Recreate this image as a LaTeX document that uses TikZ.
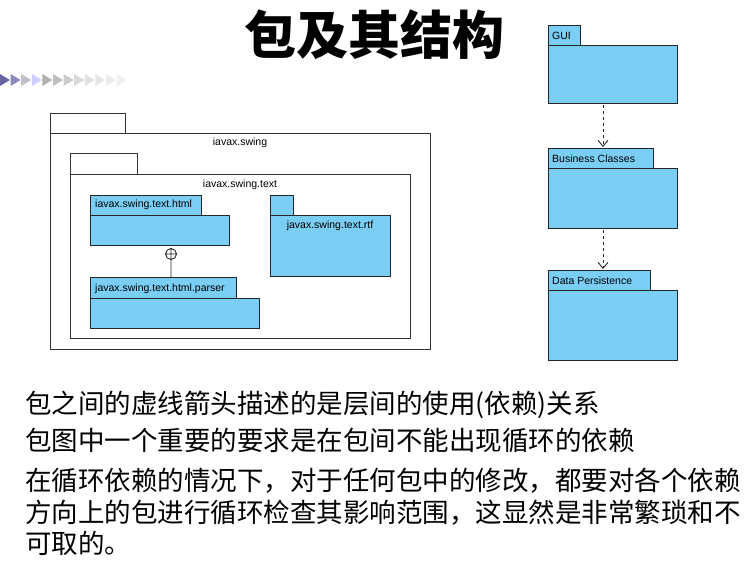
\documentclass[tikz,border=0pt]{standalone}
\usepackage{fontspec}
\setmainfont{Liberation Sans}
\newfontfamily\cjk{Noto Sans CJK SC}
\usetikzlibrary{arrows.meta}
\definecolor{pkgblue}{RGB}{122,206,244}
\tikzset{
  box/.style={draw=black!85,fill=pkgblue,line width=0.9pt},
  frame/.style={draw=black!80,fill=white,line width=0.9pt},
  lbl/.style={font=\fontsize{10.5}{12}\selectfont,inner sep=1pt},
  dep/.style={draw=black!85,line width=0.9pt,dashed,-{Straight Barb[length=6pt,width=10pt]}},
  line/.style={anchor=west,font=\cjk\fontsize{26.5}{30}\selectfont,inner sep=0pt},
}
\begin{document}
\begin{tikzpicture}[x=1pt,y=-1pt]
  \useasboundingbox (0,0) rectangle (749,560);
  \node (title) at (374,35) {\cjk\bfseries\fontsize{52}{56}\selectfont 包及其结构};
  \foreach \i/\c in {0/blue!40!black!60,1/blue!40!black!45,2/blue!25!black!25,3/blue!20,4/black!30,5/black!25,6/black!20,7/black!15,8/black!12,9/black!10,10/black!8,11/black!6}
    \fill[\c] (\i*10.6,74) -- (\i*10.6+10,80) -- (\i*10.6,86) -- cycle;
  % javax.swing
  \draw[frame] (50,113) rectangle (125,133);
  \draw[frame] (50,133) rectangle (430,349);
  \node[lbl] (swing) at (240,143) {iavax.swing};
  \draw[frame] (70,153) rectangle (137,174);
  \draw[frame] (70,174) rectangle (410,338);
  \node[lbl] (text) at (240,185) {iavax.swing.text};
  % html / parser / rtf
  \draw[box] (90,195) rectangle (201,215);
  \draw[box] (90,215) rectangle (229,245);
  \node[lbl,anchor=west] (html) at (94,205) {iavax.swing.text.html};
  \draw[box] (90,277) rectangle (236,298);
  \draw[box] (90,298) rectangle (259,328);
  \node[lbl,anchor=west] (parser) at (94,289) {javax.swing.text.html.parser};
  \draw[box] (270,195) rectangle (293,215);
  \draw[box] (270,215) rectangle (390,276);
  \node[lbl] (rtf) at (330,226) {javax.swing.text.rtf};
  \coordinate (nestBot) at (171,277);
  \draw[black!85,line width=0.9pt] (171,254) circle (5.5) (165.5,254) -- (176.5,254) (171,248.5) -- (nestBot);
  % layers
  \foreach \y/\w/\b/\t/\n in {25/32/103/GUI/gui,148/105/228/Business Classes/bus,270/102/360/Data Persistence/data}{
    \draw[box] (548,\y) rectangle (548+\w,\y+20);
    \draw[box] (548,\y+20) rectangle (677,\b);
    \node[lbl,anchor=west] (\n) at (551,\y+10.5) {\t};
  }
  \coordinate (a1) at (603,105);
  \coordinate (a2) at (603,147);
  \coordinate (b1) at (603,230);
  \coordinate (b2) at (603,269);
  \draw[dep] (a1) -- (a2);
  \draw[dep] (b1) -- (b2);
  % text
  \node[line] (l1) at (25,405) {包之间的虚线箭头描述的是层间的使用(依赖)关系};
  \node[line] (l2) at (25,440) {包图中一个重要的要求是在包间不能出现循环的依赖};
  \node[line] (l3) at (25,481) {在循环依赖的情况下，对于任何包中的修改，都要对各个依赖};
  \node[line] (l4) at (25,513) {方向上的包进行循环检查其影响范围，这显然是非常繁琐和不};
  \node[line] (l5) at (25,543) {可取的。};
\end{tikzpicture}
\end{document}
